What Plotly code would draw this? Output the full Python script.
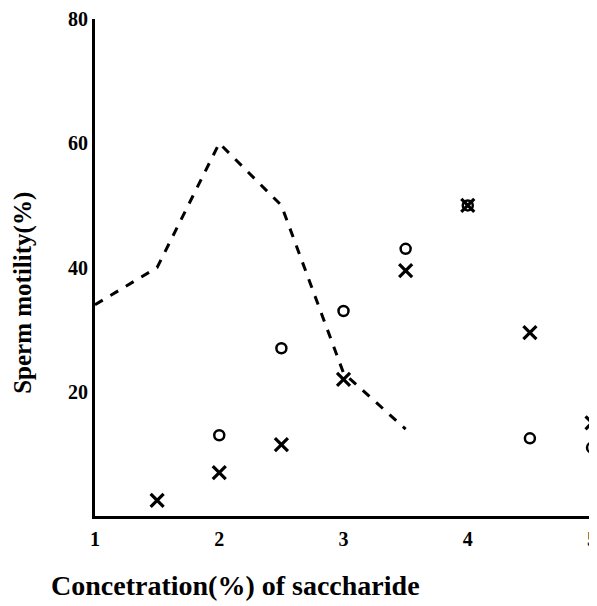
import plotly.graph_objects as go

# Data
line_x = [1, 1.5, 2, 2.5, 3, 3.5]
line_y = [34, 40, 60, 50, 23, 14]

circle_x = [2, 2.5, 3, 3.5, 4, 4.5, 5]
circle_y = [13, 27, 33, 43, 50, 12.5, 11]

cross_x = [1.5, 2, 2.5, 3, 3.5, 4, 4.5, 5]
cross_y = [2.5, 7, 11.5, 22, 39.5, 50, 29.5, 15]

x_ticks = [1, 2, 3, 4, 5]
x_ticklabels = ["1", "2", "3", "4", "5"]
y_ticks = [20, 40, 60, 80]
y_ticklabels = ["20", "40", "60", "80"]

fig = go.Figure()
fig.add_trace(go.Scatter(x=line_x, y=line_y, mode="lines",
                         line=dict(color="black", width=3, dash="dash"),
                         cliponaxis=False, showlegend=False))
fig.add_trace(go.Scatter(x=circle_x, y=circle_y, mode="markers",
                         marker=dict(symbol="circle-open", size=10, color="black",
                                     line=dict(width=2.5, color="black")),
                         cliponaxis=False, showlegend=False))
fig.add_trace(go.Scatter(x=cross_x, y=cross_y, mode="markers",
                         marker=dict(symbol="x-thin-open", size=13, color="black",
                                     line=dict(width=3.2, color="black")),
                         cliponaxis=False, showlegend=False))

# page has an 8px body margin: figure drawn at (8, 8)
W, H = 589, 598
L, T, B = 87, 7, 90
PW, PH = W - L, H - T - B

tickfont = dict(family="Liberation Serif", size=20, color="black")
fig.update_layout(
    width=W, height=H,
    margin=dict(l=L, r=0, t=T, b=B),
    paper_bgcolor="white", plot_bgcolor="white",
    xaxis=dict(range=[1, 5.04], tickvals=x_ticks,
               ticktext=["<b>%s</b>" % t for t in x_ticklabels],
               showgrid=False, zeroline=False, showline=True, linewidth=3,
               linecolor="black", ticks="", tickfont=tickfont,
               ticklabelstandoff=3, ticklabeloverflow="allow"),
    yaxis=dict(range=[0, 80], tickvals=y_ticks,
               ticktext=["<b>%s</b>" % t for t in y_ticklabels],
               showgrid=False, zeroline=False, showline=True, linewidth=3,
               linecolor="black", ticks="", tickfont=tickfont,
               ticklabelstandoff=0, ticklabeloverflow="allow"),
    annotations=[
        dict(text="<b>Concetration(%) of saccharide</b>", xref="paper", yref="paper",
             x=(227 - L) / PW, y=(T + PH - 578) / PH,
             xanchor="center", yanchor="middle", showarrow=False,
             font=dict(family="Liberation Serif", size=28, color="black")),
        dict(text="<b>Sperm motility(%)</b>", xref="paper", yref="paper",
             x=(15 - L) / PW, y=(T + PH - 283) / PH,
             xanchor="center", yanchor="middle", showarrow=False,
             textangle=-90,
             font=dict(family="Liberation Serif", size=25, color="black")),
    ],
)
fig.write_html("out.html")
